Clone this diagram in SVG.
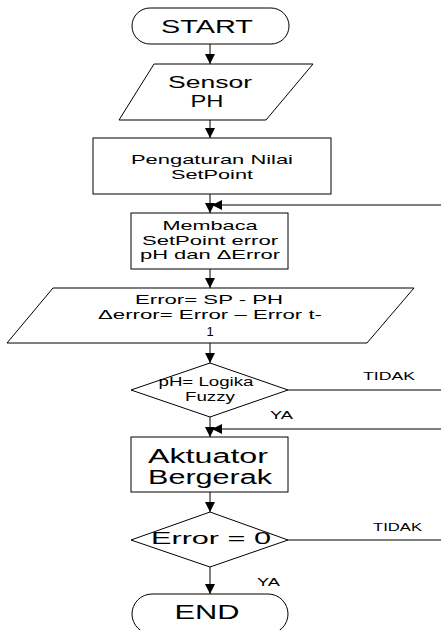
<svg xmlns="http://www.w3.org/2000/svg" width="441" height="630" viewBox="0 0 441 630">
<style>
.s{fill:#fff;stroke:#000;stroke-width:1}
.c{stroke:#000;stroke-width:1;fill:none}
text{font-family:"Liberation Sans",Arial,sans-serif;fill:#000;text-anchor:middle}
.l{text-anchor:start;font-size:11px}
</style>
<defs>
<marker id="ah" markerUnits="userSpaceOnUse" markerWidth="10" markerHeight="10" viewBox="0 0 10 10" refX="10" refY="5" orient="auto">
<path d="M0,0 L10,5 L0,10 z" fill="#000"/>
</marker>
</defs>
<rect width="441" height="630" fill="#fff"/>
<g id="connectors">
<line class="c" x1="210" y1="44" x2="210" y2="64" marker-end="url(#ah)"/>
<line class="c" x1="210" y1="120" x2="210" y2="138" marker-end="url(#ah)"/>
<line class="c" x1="210" y1="194" x2="210" y2="213" marker-end="url(#ah)"/>
<line class="c" x1="441" y1="205" x2="212" y2="205" marker-end="url(#ah)"/>
<line class="c" x1="210" y1="269" x2="210" y2="288" marker-end="url(#ah)"/>
<line class="c" x1="210" y1="343" x2="210" y2="363" marker-end="url(#ah)"/>
<line class="c" x1="288" y1="390" x2="441" y2="390"/>
<line class="c" x1="210" y1="417" x2="210" y2="437" marker-end="url(#ah)"/>
<line class="c" x1="441" y1="429" x2="212" y2="429" marker-end="url(#ah)"/>
<line class="c" x1="210" y1="492" x2="210" y2="512" marker-end="url(#ah)"/>
<line class="c" x1="288" y1="540" x2="441" y2="540"/>
<line class="c" x1="210" y1="567" x2="210" y2="594" marker-end="url(#ah)"/>
<text class="l" x="363" y="380" textLength="52" lengthAdjust="spacingAndGlyphs">TIDAK</text>
<text class="l" x="270" y="419" textLength="23" lengthAdjust="spacingAndGlyphs" style="font-size:10px">YA</text>
<text class="l" x="373" y="531" textLength="49" lengthAdjust="spacingAndGlyphs">TIDAK</text>
<text class="l" x="257" y="586" textLength="23" lengthAdjust="spacingAndGlyphs" style="font-size:10px">YA</text>
</g>
<g id="start">
<rect class="s" x="132" y="8" width="157" height="36" rx="18"/>
<text x="207" y="33" font-size="18" textLength="92" lengthAdjust="spacingAndGlyphs">START</text>
</g>
<g id="sensor">
<polygon class="s" points="154,64 313,64 266,120 119,120"/>
<text x="210" y="88" font-size="16" textLength="84" lengthAdjust="spacingAndGlyphs">Sensor</text>
<text x="207" y="107" font-size="16" textLength="33" lengthAdjust="spacingAndGlyphs">PH</text>
</g>
<g id="pengaturan">
<rect class="s" x="93" y="138" width="238" height="56"/>
<text x="212" y="164" font-size="13" textLength="162" lengthAdjust="spacingAndGlyphs">Pengaturan Nilai</text>
<text x="212" y="179" font-size="13" textLength="82" lengthAdjust="spacingAndGlyphs">SetPoint</text>
</g>
<g id="membaca">
<rect class="s" x="131" y="213" width="157" height="56"/>
<text x="210" y="230" font-size="13" textLength="95" lengthAdjust="spacingAndGlyphs">Membaca</text>
<text x="210" y="245" font-size="13" textLength="136" lengthAdjust="spacingAndGlyphs">SetPoint error</text>
<text x="210" y="259" font-size="13" textLength="140" lengthAdjust="spacingAndGlyphs">pH dan ΔError</text>
</g>
<g id="error-calc">
<polygon class="s" points="53,288 414,288 367,343 7,343"/>
<text x="209" y="304" font-size="13" textLength="148" lengthAdjust="spacingAndGlyphs">Error= SP - PH</text>
<text x="210" y="319" font-size="13" textLength="224" lengthAdjust="spacingAndGlyphs">Δerror= Error – Error t-</text>
<text x="210" y="336" font-size="13">1</text>
</g>
<g id="fuzzy">
<polygon class="s" points="210,363 288,390 210,417 131,390"/>
<text x="206" y="386" font-size="12" textLength="95" lengthAdjust="spacingAndGlyphs">pH= Logika</text>
<text x="210" y="401" font-size="12" textLength="50" lengthAdjust="spacingAndGlyphs">Fuzzy</text>
</g>
<g id="aktuator">
<rect class="s" x="131" y="437" width="157" height="55"/>
<text x="208" y="463" font-size="20" textLength="120" lengthAdjust="spacingAndGlyphs">Aktuator</text>
<text x="210" y="484" font-size="20" textLength="124" lengthAdjust="spacingAndGlyphs">Bergerak</text>
</g>
<g id="error-zero">
<polygon class="s" points="210,512 288,540 210,567 131,540"/>
<text x="211" y="544" font-size="17" textLength="120" lengthAdjust="spacingAndGlyphs">Error = 0</text>
</g>
<g id="end">
<rect class="s" x="132" y="594" width="156" height="40" rx="20"/>
<text x="207" y="619" font-size="20" textLength="65" lengthAdjust="spacingAndGlyphs">END</text>
</g>
</svg>
